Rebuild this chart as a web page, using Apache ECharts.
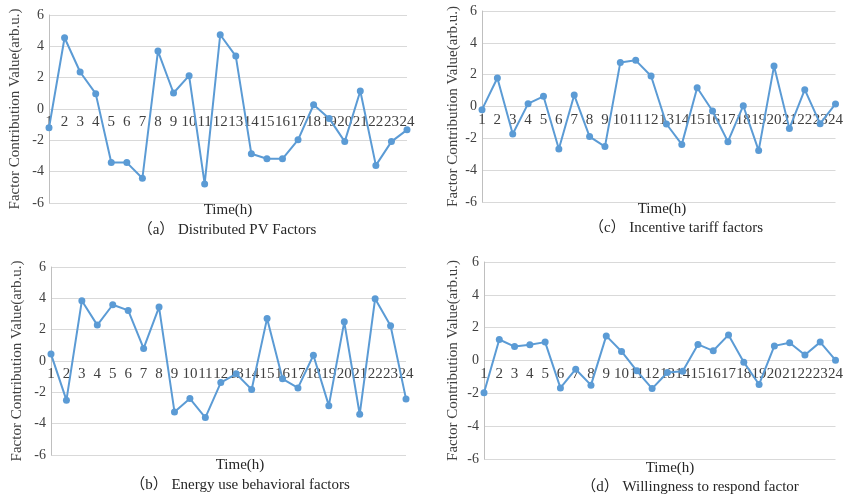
<!DOCTYPE html>
<html>
<head>
<meta charset="utf-8">
<script src="https://cdn.jsdelivr.net/npm/echarts@6/dist/echarts.min.js"></script>
<style>
  html, body { margin: 0; padding: 0; background: #fff; }
  #chart { width: 846px; height: 499px; }
</style>
</head>
<body>
<div id="chart"></div>
<script>
// hours 1..24
var hours = ['1','2','3','4','5','6','7','8','9','10','11','12','13','14','15','16','17','18','19','20','21','22','23','24'];

// (a) distributed PV
var pvFactor = [-1.2, 4.55, 2.36, 0.98, -3.42, -3.42, -4.42, 3.7, 1.02, 2.13, -4.78, 4.74, 3.38, -2.86, -3.18, -3.18, -1.97, 0.27, -0.6, -2.08, 1.15, -3.6, -2.08, -1.33];
// (b) energy use behaviour
var behaviorFactor = [0.44, -2.5, 3.85, 2.29, 3.59, 3.23, 0.8, 3.44, -3.25, -2.4, -3.61, -1.38, -0.82, -1.82, 2.72, -1.14, -1.72, 0.37, -2.85, 2.5, -3.4, 3.98, 2.25, -2.42];
// (c) incentive tariff
var tariffFactor = [-0.2, 1.79, -1.73, 0.18, 0.64, -2.67, 0.72, -1.89, -2.52, 2.77, 2.9, 1.92, -1.1, -2.38, 1.18, -0.28, -2.21, 0.05, -2.77, 2.54, -1.39, 1.06, -1.08, 0.16];
// (d) willingness to respond
var willingFactor = [-1.97, 1.28, 0.85, 0.96, 1.12, -1.67, -0.53, -1.5, 1.5, 0.55, -0.63, -1.71, -0.73, -0.65, 0.98, 0.59, 1.56, -0.1, -1.46, 0.89, 1.08, 0.33, 1.12, 0.02];

var yTicks = [-6, -4, -2, 0, 2, 4, 6];

var seriesList = [pvFactor, tariffFactor, behaviorFactor, willingFactor];
var captions = ['（a） Distributed PV Factors', '（c） Incentive tariff factors', '（b） Energy use behavioral factors', '（d） Willingness to respond factor'];

var FONT = '"Liberation Serif", "Noto Sans CJK SC", serif';
var blue = '#5b9bd5';

// plot boxes
var grids = [
    {left: 49, right: 439, top: 15, height: 188},
    {left: 482, right: 8, top: 11, height: 191},
    {left: 51, right: 440, top: 267, height: 188},
    {left: 484, right: 9, top: 262, height: 197}
];
var nameGaps = [26, 21, 26, 23];
var timePos = [[228, 210], [662, 209], [240, 465], [670, 468]];
var capPos = [[227, 230], [676, 228], [240, 485], [690, 487]];

var myChart = echarts.init(document.getElementById('chart'), null, {renderer: 'canvas'});

var xAxes = [], yAxes = [], series = [], graphics = [];
grids.forEach(function(g, i){
    // y range is symmetric, so the zero line sits half way up the plot:
    // lift the category axis there (onZero is not picked up here)
    var zeroShift = g.height * (0 - yTicks[0]) / (yTicks[yTicks.length - 1] - yTicks[0]);
    xAxes.push({
        type: 'category',
        gridIndex: i,
        data: hours,
        boundaryGap: false,
        position: 'bottom',
        offset: -zeroShift,
        axisLine: {show: false, onZero: false},
        axisTick: {show: false},
        axisLabel: {interval: 0, color: '#404040', fontFamily: FONT, fontSize: 15, margin: 6, hideOverlap: false}
    });
    yAxes.push({
        type: 'value',
        gridIndex: i,
        min: yTicks[0],
        max: yTicks[yTicks.length - 1],
        interval: 2,
        name: 'Factor Contribution Value(arb.u.)',
        nameLocation: 'middle',
        nameRotate: 90,
        nameGap: nameGaps[i],
        nameMoveOverlap: false,
        nameTextStyle: {color: '#404040', fontFamily: FONT, fontSize: 15},
        axisLine: {show: true, lineStyle: {color: '#bfbfbf', width: 1}},
        axisTick: {show: false},
        axisLabel: {color: '#404040', fontFamily: FONT, fontSize: 14, margin: 5},
        splitLine: {show: true, lineStyle: {color: '#d9d9d9', width: 1}}
    });
    series.push({
        type: 'line',
        xAxisIndex: i,
        yAxisIndex: i,
        data: seriesList[i],
        symbol: 'circle',
        symbolSize: 7,
        lineStyle: {color: blue, width: 2},
        itemStyle: {color: blue},
        z: 3
    });
    graphics.push({
        type: 'text', x: timePos[i][0], y: timePos[i][1],
        style: {text: 'Time(h)', fill: '#262626', font: '15px ' + FONT, align: 'center', verticalAlign: 'middle'}
    });
    graphics.push({
        type: 'text', x: capPos[i][0], y: capPos[i][1],
        style: {text: captions[i], fill: '#262626', font: '15px ' + FONT, align: 'center', verticalAlign: 'middle'}
    });
});

var option = {
    backgroundColor: '#fff',
    animation: false,
    grid: grids,
    xAxis: xAxes,
    yAxis: yAxes,
    series: series,
    graphic: graphics
};

myChart.setOption(option);
</script>
</body>
</html>
